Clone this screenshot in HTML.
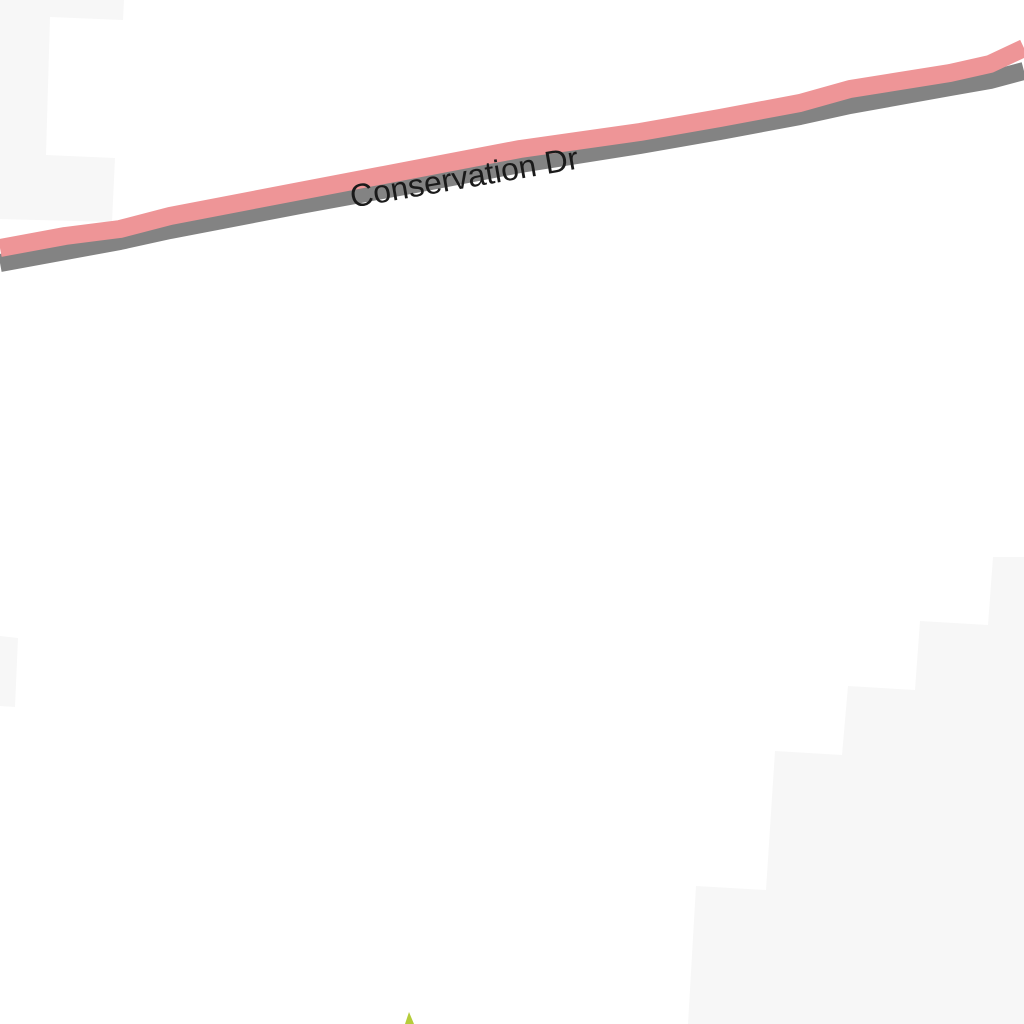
<!DOCTYPE html>
<html><head><meta charset="utf-8"><style>html,body{margin:0;padding:0;background:#fff}svg{display:block}</style></head>
<body>
<svg width="1024" height="1024" viewBox="0 0 1024 1024" xmlns="http://www.w3.org/2000/svg">
<rect width="1024" height="1024" fill="#ffffff"/>
<polygon fill="#f7f7f7" points="0,0 124,0 123,20 50,17 46,155 115,158 112,222 0,219"/>
<polygon fill="#f7f7f7" points="0,636 18,638 15,707 0,706"/>
<polygon fill="#f7f7f7" points="1024,557 993,557 988,625 920,621 915,690 848,686 842,755 775,751 766,890 696,886 688,1024 1024,1024"/>
<polyline fill="none" stroke="#838383" stroke-width="18" stroke-linejoin="round" points="0,263 120,241 170,230 300,205 410,185 520,164 640,145 720,131 800,116 850,105 950,87 990,80 1024,71"/>
<polyline fill="none" stroke="#ee9597" stroke-width="18" stroke-linejoin="round" points="0,248 65,236 120,229 170,216 300,191 410,170 520,149 640,132 720,118 800,103 850,89 950,73 990,64 1024,48"/>
<text x="466" y="188" text-anchor="middle" font-family="Liberation Sans, sans-serif" font-size="32" fill="#1a1a1a" transform="rotate(-9.8 466 188)">Conservation Dr</text>
<polygon fill="#b5cc3a" points="405,1024 409,1012 414,1024"/>
</svg>
</body></html>
